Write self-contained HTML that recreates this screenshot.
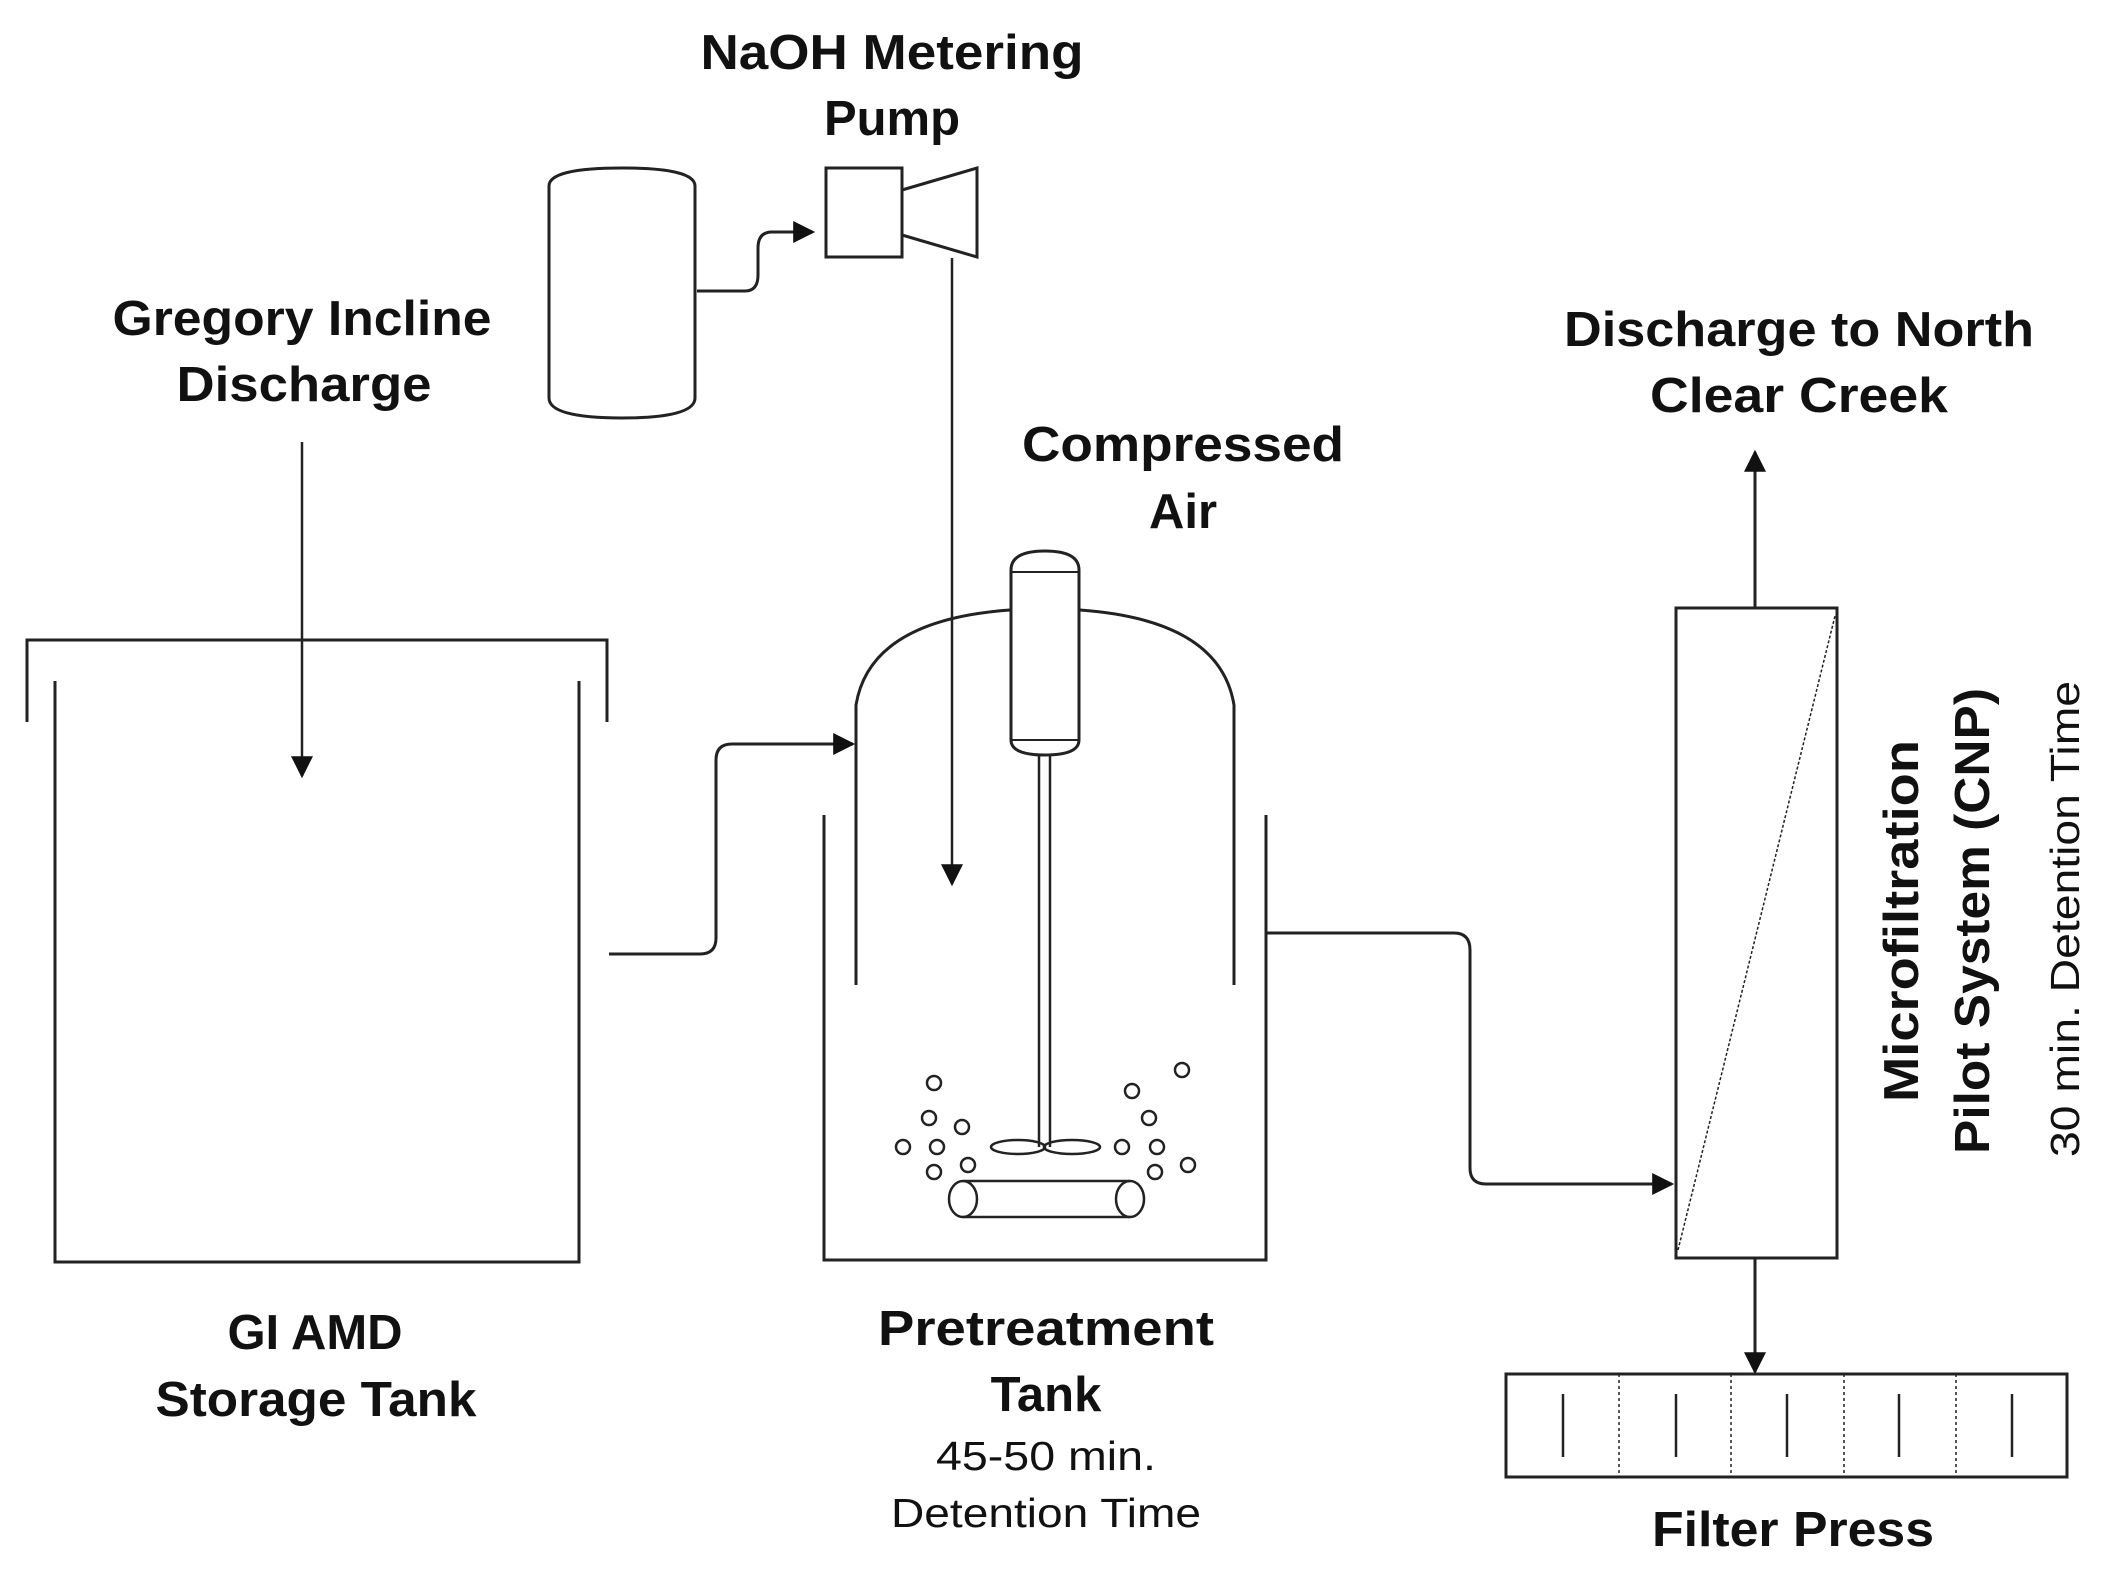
<!DOCTYPE html>
<html><head><meta charset="utf-8"><style>
html,body{margin:0;padding:0;background:#fff}
svg{display:block}
.b{font-family:"Liberation Sans",sans-serif;font-weight:bold;font-size:49px;fill:#111}
.r{font-family:"Liberation Sans",sans-serif;font-size:41px;fill:#111}
</style></head><body>
<svg width="2117" height="1573" viewBox="0 0 2117 1573" xmlns="http://www.w3.org/2000/svg">
<defs>
<marker id="A" viewBox="0 0 10 10" refX="9" refY="5" markerWidth="24" markerHeight="22" orient="auto" markerUnits="userSpaceOnUse"><path d="M0,0 L10,5 L0,10 z" fill="#111"/></marker></defs>
<g fill="none" stroke="#222" stroke-width="3">
<path d="M549,186 Q549,168 622,168 Q695,168 695,186 L695,398 Q695,418 622,418 Q549,418 549,398 Z"/>
<rect x="826" y="168" width="76" height="89"/>
<path d="M902,190 L977,168 L977,257 L902,235"/>
<path d="M697,291 L745,291 Q758,291 758,275 L758,248 Q758,232 772,232 L813,232" marker-end="url(#A)"/>
<path d="M952,258 L952,884" stroke-width="2.5" marker-end="url(#A)"/>
<path d="M302,442 L302,776" stroke-width="2.5" marker-end="url(#A)"/>
<path d="M27,722 L27,640 L607,640 L607,722"/>
<path d="M55,681 L55,1262 L579,1262 L579,681"/>
<path d="M609,954 L700,954 Q716,954 716,938 L716,760 Q716,744 732,744 L853,744" marker-end="url(#A)"/>
<path d="M824,815 L824,1260 L1266,1260 L1266,815"/>
<path d="M856,985 L856,705 Q870,620 1010,610 M1080,610 Q1220,620 1234,705 L1234,985"/>
<path d="M1011,570 Q1011,551 1045,551 Q1079,551 1079,570 L1079,740 Q1079,755 1045,755 Q1011,755 1011,740 Z"/>
<line x1="1011" y1="572" x2="1079" y2="572" stroke-width="2"/>
<line x1="1011" y1="740" x2="1079" y2="740" stroke-width="2"/>
<line x1="1039" y1="755" x2="1039" y2="1147" stroke-width="2.5"/>
<line x1="1050" y1="755" x2="1050" y2="1147" stroke-width="2.5"/>
<ellipse cx="1018" cy="1147" rx="27" ry="7" stroke-width="2.5"/>
<ellipse cx="1072" cy="1147" rx="28" ry="7" stroke-width="2.5"/>
<path d="M963,1181 L1130,1181 M963,1217 L1130,1217" stroke-width="2.5"/>
<ellipse cx="963" cy="1199" rx="14" ry="18" stroke-width="2.5"/>
<ellipse cx="1130" cy="1199" rx="14" ry="18" stroke-width="2.5"/>
<g stroke-width="2.5">
<circle cx="934" cy="1083" r="7"/><circle cx="929" cy="1118" r="7"/><circle cx="962" cy="1127" r="7"/><circle cx="903" cy="1147" r="7"/><circle cx="937" cy="1147" r="7"/><circle cx="934" cy="1172" r="7"/><circle cx="968" cy="1165" r="7"/>
<circle cx="1132" cy="1091" r="7"/><circle cx="1182" cy="1070" r="7"/><circle cx="1149" cy="1118" r="7"/><circle cx="1122" cy="1147" r="7"/><circle cx="1157" cy="1147" r="7"/><circle cx="1155" cy="1172" r="7"/><circle cx="1188" cy="1165" r="7"/>
</g>
<path d="M1266,933 L1454,933 Q1470,933 1470,950 L1470,1168 Q1470,1184 1486,1184 L1672,1184" marker-end="url(#A)"/>
<rect x="1676" y="608" width="161" height="650"/>
<line x1="1678" y1="1250" x2="1835" y2="616" stroke-width="1.5" stroke-dasharray="3,2"/>
<path d="M1755,608 L1755,452" marker-end="url(#A)"/>
<path d="M1755,1258 L1755,1372" marker-end="url(#A)"/>
<rect x="1506" y="1374" width="561" height="103"/>
<g stroke-width="1.5" stroke-dasharray="3,3"><line x1="1619" y1="1374" x2="1619" y2="1477"/><line x1="1731" y1="1374" x2="1731" y2="1477"/><line x1="1844" y1="1374" x2="1844" y2="1477"/><line x1="1956" y1="1374" x2="1956" y2="1477"/></g>
<g stroke-width="2.5"><line x1="1563" y1="1394" x2="1563" y2="1457"/><line x1="1676" y1="1394" x2="1676" y2="1457"/><line x1="1787" y1="1394" x2="1787" y2="1457"/><line x1="1899" y1="1394" x2="1899" y2="1457"/><line x1="2012" y1="1394" x2="2012" y2="1457"/></g>
</g>
<g text-anchor="middle">
<text class="b" x="892" y="69" textLength="383" lengthAdjust="spacingAndGlyphs">NaOH Metering</text>
<text class="b" x="892" y="135">Pump</text>
<text class="b" x="302" y="335" textLength="379" lengthAdjust="spacingAndGlyphs">Gregory Incline</text>
<text class="b" x="304" y="401" textLength="255" lengthAdjust="spacingAndGlyphs">Discharge</text>
<text class="b" x="1183" y="461" textLength="322" lengthAdjust="spacingAndGlyphs">Compressed</text>
<text class="b" x="1183" y="528">Air</text>
<text class="b" x="1799" y="346" textLength="470" lengthAdjust="spacingAndGlyphs">Discharge to North</text>
<text class="b" x="1799" y="412" textLength="298" lengthAdjust="spacingAndGlyphs">Clear Creek</text>
<text class="b" x="315" y="1349">GI AMD</text>
<text class="b" x="316" y="1416" textLength="321" lengthAdjust="spacingAndGlyphs">Storage Tank</text>
<text class="b" x="1046" y="1345" textLength="336" lengthAdjust="spacingAndGlyphs">Pretreatment</text>
<text class="b" x="1046" y="1411">Tank</text>
<text class="r" x="1046" y="1470" textLength="220" lengthAdjust="spacingAndGlyphs">45-50 min.</text>
<text class="r" x="1046" y="1527" textLength="310" lengthAdjust="spacingAndGlyphs">Detention Time</text>
<text class="b" x="1793" y="1546" textLength="282" lengthAdjust="spacingAndGlyphs">Filter Press</text>
<text class="b" transform="translate(1918,921) rotate(-90)" textLength="362" lengthAdjust="spacingAndGlyphs">Microfiltration</text>
<text class="b" transform="translate(1989,921) rotate(-90)" textLength="466" lengthAdjust="spacingAndGlyphs">Pilot System (CNP)</text>
<text class="r" transform="translate(2079,919) rotate(-90)" textLength="476" lengthAdjust="spacingAndGlyphs">30 min. Detention Time</text>
</g>
</svg>
</body></html>
